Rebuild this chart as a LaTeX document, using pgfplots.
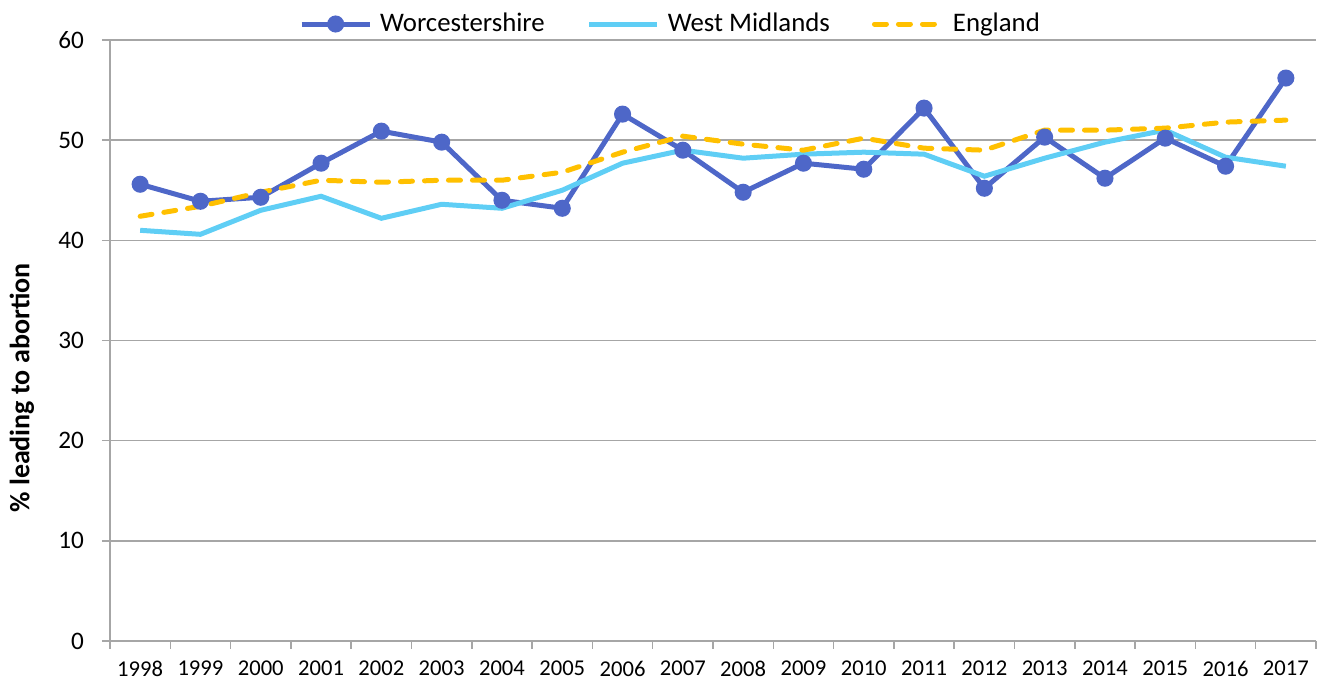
\documentclass[border=0pt]{standalone}
\usepackage{fontspec}
\setmainfont{Carlito}
\usepackage{pgfplots}
\pgfplotsset{compat=1.18}
\definecolor{worc}{HTML}{4E67C8}
\definecolor{wm}{HTML}{5FCEF5}
\definecolor{eng}{HTML}{FFC000}
\definecolor{gridc}{HTML}{A6A6A6}
\begin{document}
\begin{tikzpicture}[font=\fontsize{11.2}{13}\selectfont]
\begin{axis}[
  scale only axis, width=603pt, height=300.5pt,
  xmin=-0.5, xmax=19.5, ymin=0, ymax=60,
  axis x line*=bottom, axis y line*=left,
  axis line style={gridc, line width=0.75pt, -},
  tick align=outside,
  xtick={0,...,19},
  xticklabels={1998,1999,2000,2001,2002,2003,2004,2005,2006,2007,2008,2009,2010,2011,2012,2013,2014,2015,2016,2017},
  major x tick style={draw=none},
  minor xtick={-0.5,0.5,...,19.5},
  minor tick length=4pt,
  major tick length=4pt,
  every tick/.style={gridc, line width=0.75pt},
  ytick={0,10,...,60},
  ymajorgrids, grid style={gridc, line width=0.75pt},
  /pgf/number format/assume math mode=true,
  xticklabel style={font=\fontsize{11.3}{13}\selectfont, yshift=-2.5pt},
  yticklabel style={font=\fontsize{12.6}{14}\selectfont, xshift=-5.5pt},
  ylabel={\% leading to abortion},
  ylabel style={at={(axis description cs:-0.0730,0.421)}, anchor=center, font=\fontsize{14}{16}\selectfont\bfseries},
  legend style={at={(0.4656,1.0266)}, anchor=center, draw=none, fill=none,
    legend columns=-1, font=\fontsize{13.4}{15}\selectfont,
    /tikz/every odd column/.append style={column sep=2pt},
    /tikz/every even column/.append style={column sep=19pt}},
  legend image code/.code={\draw[mark repeat=2,mark phase=2] plot coordinates {(0pt,0pt)(17pt,0pt)(34pt,0pt)};},
]
\addplot[worc, line width=2.5pt, mark=*, mark size=3pt, mark options={solid}] coordinates {
(0,45.6)(1,43.9)(2,44.3)(3,47.7)(4,50.9)(5,49.8)(6,44.0)(7,43.2)(8,52.6)(9,49.0)
(10,44.8)(11,47.7)(12,47.1)(13,53.2)(14,45.2)(15,50.3)(16,46.2)(17,50.2)(18,47.4)(19,56.2)};
\addlegendentry{Worcestershire}
\addplot[wm, line width=2.5pt, mark=none] coordinates {
(0,41.0)(1,40.6)(2,43.0)(3,44.4)(4,42.2)(5,43.6)(6,43.2)(7,45.0)(8,47.7)(9,49.0)
(10,48.2)(11,48.6)(12,48.8)(13,48.6)(14,46.4)(15,48.2)(16,49.8)(17,51.0)(18,48.3)(19,47.4)};
\addlegendentry{West Midlands}
\addplot[eng, line width=2.5pt, mark=none, line cap=round, dash pattern=on 6pt off 6pt] coordinates {
(0,42.4)(1,43.4)(2,44.8)(3,46.0)(4,45.8)(5,46.0)(6,46.0)(7,46.8)(8,48.8)(9,50.4)
(10,49.6)(11,49.0)(12,50.2)(13,49.2)(14,49.0)(15,51.0)(16,51.0)(17,51.2)(18,51.8)(19,52.0)};
\addlegendentry{England}
\end{axis}
\pgfresetboundingbox
\path[use as bounding box] (-55pt,-21.5pt) rectangle (605pt,320.5pt);
\end{tikzpicture}
\end{document}
